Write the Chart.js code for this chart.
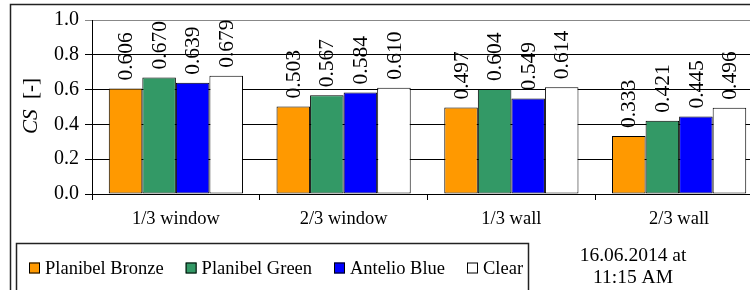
<!DOCTYPE html>
<html>
<head>
<meta charset="utf-8">
<script src="https://cdn.jsdelivr.net/npm/chart.js@4/dist/chart.umd.min.js"></script>
<style>
  html, body { margin: 0; padding: 0; background: #fff; overflow: hidden; }
  #wrap { width: 750px; height: 290px; overflow: hidden; position: relative; }
  canvas { position: absolute; left: 0; top: 0; }
</style>
</head>
<body>
<div id="wrap"><canvas id="cs" width="775" height="300"></canvas></div>
<script>
// data
const categories = ['1/3 window', '2/3 window', '1/3 wall', '2/3 wall'];
const seriesNames = ['Planibel Bronze', 'Planibel Green', 'Antelio Blue', 'Clear'];
const bronzeValues = [0.606, 0.503, 0.497, 0.333];
const greenValues = [0.670, 0.567, 0.604, 0.421];
const blueValues = [0.639, 0.584, 0.549, 0.445];
const clearValues = [0.679, 0.610, 0.614, 0.496];
const seriesColors = ['#FF9900', '#339966', '#0000FF', '#FFFFFF'];
const yTickMin = 0, yTickMax = 1, yTickStep = 0.2;
const dateLines = ['16.06.2014 at', '11:15 AM'];

const serif = "'Liberation Serif', 'Times New Roman', serif";

// valeurs au-dessus des barres, tournées de 90°
const barLabels = {
    id: 'barLabels',
    afterDatasetsDraw(chart) {
        const ctx = chart.ctx;
        ctx.save();
        ctx.fillStyle = '#000';
        ctx.font = '21.5px ' + serif;
        ctx.textAlign = 'left';
        ctx.textBaseline = 'middle';
        chart.data.datasets.forEach((ds, i) => {
            chart.getDatasetMeta(i).data.forEach((bar, j) => {
                ctx.save();
                ctx.translate(bar.x + 1, bar.y - 8);
                ctx.rotate(-Math.PI / 2);
                ctx.fillText(ds.data[j].toFixed(3), 0, 0);
                ctx.restore();
            });
        });
        ctx.restore();
    }
};

// cadres, titre de l'axe Y, légende et date
const extras = {
    id: 'extras',
    afterDraw(chart) {
        const ctx = chart.ctx;
        ctx.save();
        // outer frame
        ctx.strokeStyle = '#222';
        ctx.lineWidth = 1.5;
        ctx.strokeRect(10.5, 4.5, 800, 400);

        // y title : CS italique + [-]
        ctx.fillStyle = '#000';
        ctx.save();
        ctx.translate(31, 134);
        ctx.rotate(-Math.PI / 2);
        ctx.textBaseline = 'middle';
        ctx.textAlign = 'left';
        ctx.font = 'italic 21px ' + serif;
        ctx.fillText('CS', 0, 0);
        ctx.font = '21px ' + serif;
        ctx.fillText('[-]', 35, 0);
        ctx.restore();

        // legend box
        ctx.strokeStyle = '#222';
        ctx.lineWidth = 1.5;
        ctx.strokeRect(16.5, 243.5, 512, 200);
        ctx.font = '18.5px ' + serif;
        ctx.textBaseline = 'middle';
        ctx.textAlign = 'left';
        const ds = chart.data.datasets;
        const firstBox = 29, lastBox = 470;
        let used = 0;
        ds.slice(0, -1).forEach(d => { used += 17 + ctx.measureText(d.label).width; });
        const gap = (lastBox - firstBox - used) / (ds.length - 1);
        let x = firstBox;
        const yc = 268;
        ds.forEach(d => {
            ctx.fillStyle = d.backgroundColor;
            ctx.fillRect(x, yc - 5.5, 11, 11);
            ctx.lineWidth = 1;
            ctx.strokeStyle = '#000';
            ctx.strokeRect(x + 0.5, yc - 5, 10, 10);
            ctx.fillStyle = '#000';
            ctx.fillText(d.label, x + 16, yc + 1);
            x += 16 + ctx.measureText(d.label).width + gap;
        });

        // date
        ctx.textAlign = 'center';
        ctx.font = '19.5px ' + serif;
        ctx.fillText(dateLines[0], 633, 256);
        ctx.fillText(dateLines[1], 633, 278);
        ctx.restore();
    }
};

const allValues = [bronzeValues, greenValues, blueValues, clearValues];

new Chart(document.getElementById('cs').getContext('2d'), {
    type: 'bar',
    data: {
        labels: categories,
        datasets: seriesNames.map((name, i) => ({
            label: name,
            data: allValues[i],
            backgroundColor: seriesColors[i],
            borderColor: '#000',
            borderWidth: 1,
            borderSkipped: false,
            categoryPercentage: 0.8,
            barPercentage: 1.0
        }))
    },
    options: {
        responsive: false,
        animation: false,
        devicePixelRatio: 1,
        layout: { padding: { top: 20, right: 12, left: 0, bottom: 0 } },
        plugins: {
            legend: { display: false },
            tooltip: { enabled: false }
        },
        scales: {
            x: {
                grid: { display: true, drawOnChartArea: false, tickLength: 6, color: '#000' },
                border: { display: true, color: '#000', width: 1 },
                ticks: { color: '#000', font: { family: serif, size: 18.5 }, padding: 8, maxRotation: 0 },
                afterFit(scale) { scale.height = 106; }
            },
            y: {
                min: yTickMin,
                max: yTickMax,
                grid: { color: c => c.tick && c.tick.value === yTickMax ? '#888' : '#000', tickLength: 7 },
                border: { display: true, color: '#000', width: 1 },
                ticks: {
                    stepSize: yTickStep,
                    color: '#000',
                    font: { family: serif, size: 20 },
                    padding: 6,
                    callback: v => v.toFixed(1)
                },
                afterFit(scale) { scale.width = 92; }
            }
        }
    },
    plugins: [barLabels, extras]
});
</script>
</body>
</html>
